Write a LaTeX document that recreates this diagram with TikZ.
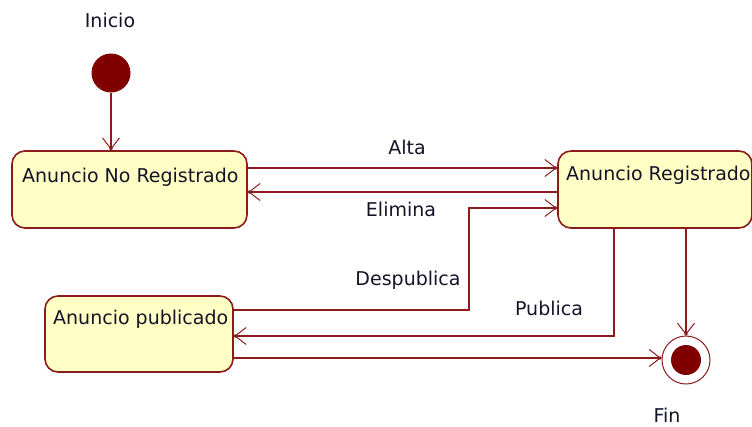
\documentclass[tikz,border=0pt]{standalone}
\usepackage{fontspec}
\setmainfont{DejaVu Sans}
\usetikzlibrary{arrows.meta,calc}
\definecolor{ln}{RGB}{140,28,28}
\definecolor{bx}{RGB}{255,255,198}
\definecolor{dot}{RGB}{128,0,0}
\definecolor{tx}{RGB}{20,20,40}
\tikzset{
  statebox/.style={draw=ln,line width=1.6pt,fill=bx,rounded corners=13pt,minimum width=#1,inner sep=0pt,minimum height=77pt},
  lbl/.style={font=\fontsize{19}{22}\selectfont,text=tx,inner sep=0pt,anchor=base},
  tr/.style={draw=ln,line width=1.5pt,-{Straight Barb[length=11pt,width=17pt,line width=1pt,sep=-2.5pt]Circle[length=3pt]}}
}
\begin{document}
\begin{tikzpicture}[x=1pt,y=-1pt]
\useasboundingbox (0,0) rectangle (752,426);
% initial state
\node[circle,fill=dot,minimum size=39pt,inner sep=0pt] (ini) at (111,73) {};
\node[lbl] (tini) at (110,27) {Inicio};
% states
\node[statebox=235pt] (b1) at (129.5,189.5) {};
\node[statebox=194pt] (b2) at (655,189.5) {};
\node[statebox=188pt,minimum height=76pt] (b3) at (139,334) {};
\node[lbl,anchor=base west] (t1) at (22,182) {Anuncio No Registrado};
\node[lbl,anchor=base west] (t2) at (566,180) {Anuncio Registrado};
\node[lbl,anchor=base west] (t3) at (53,324) {Anuncio publicado};
% final state
\node[circle,draw=ln,line width=1pt,fill=white,minimum size=48pt,inner sep=0pt] (fin) at (686,360) {};
\node[circle,fill=dot,minimum size=30pt,inner sep=0pt] (finin) at (686,360) {};
\node[lbl] (tfin) at (667,422) {Fin};
% transitions
\draw[tr] (ini.south) -- (ini.south |- b1.north);
\draw[tr] ([yshift=21.5pt]b1.east) -- ([yshift=21.5pt]b2.west);
\draw[tr] ([yshift=-2.5pt]b2.west) -- ([yshift=-2.5pt]b1.east);
\coordinate (d1) at ([yshift=24pt]b3.east);
\coordinate (d2) at ([yshift=-18.5pt]b2.west);
\coordinate (dk) at (469,0);
\draw[tr] (d1) -| (dk |- d2) -- (d2);
\draw[tr] ([xshift=-41pt]b2.south) |- ([yshift=-2pt]b3.east);
\coordinate (f1) at ([yshift=-24pt]b3.east);
\draw[tr] (f1) -- (f1 -| fin.west);
\draw[tr] (b2.south -| fin.north) -- (fin.north);
% labels
\node[lbl] (lalta) at (407,154) {Alta};
\node[lbl] (lelim) at (401,216) {Elimina};
\node[lbl] (ldesp) at (408,285) {Despublica};
\node[lbl] (lpub) at (549,315) {Publica};
\end{tikzpicture}
\end{document}
